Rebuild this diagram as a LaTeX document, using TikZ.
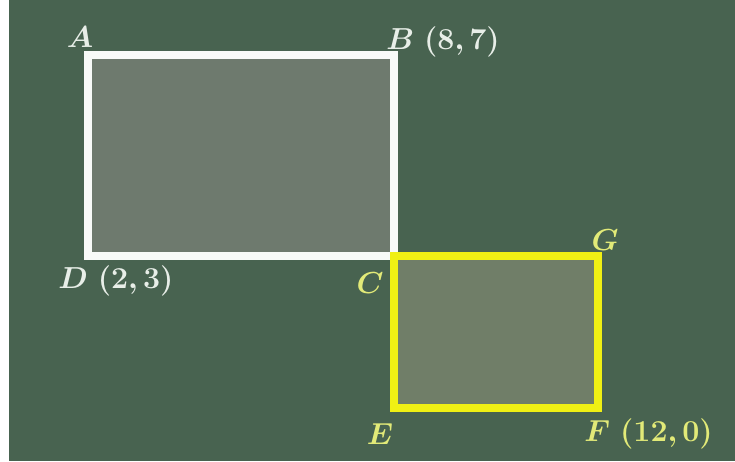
\documentclass[tikz,border=0pt]{standalone}
\usepackage{bm}
\usetikzlibrary{positioning}
\definecolor{boardgreen}{RGB}{72,99,80}
\definecolor{boxgray}{RGB}{110,122,110}
\definecolor{boxgreen}{RGB}{112,126,104}
\definecolor{chalkwhite}{RGB}{248,250,248}
\definecolor{chalkyellow}{RGB}{240,240,20}
\definecolor{lblwhite}{RGB}{232,238,232}
\definecolor{lblyellow}{RGB}{226,234,120}

\begin{document}
\begin{tikzpicture}[x=0.02cm,y=-0.02cm,
    wbox/.style={draw=chalkwhite,fill=boxgray,line width=4pt,line join=miter},
    ybox/.style={draw=chalkyellow,fill=boxgreen,line width=4pt,line join=miter},
    wlbl/.style={font=\fontsize{19}{22}\selectfont,text=lblwhite,inner sep=0pt},
    ylbl/.style={font=\fontsize{19}{22}\selectfont,text=lblyellow,inner sep=0pt}
  ]
    % board
    \fill[white] (0,0) rectangle (735,461);
    \fill[boardgreen] (9,0) rectangle (735,461);
    \useasboundingbox (0,0) rectangle (735,461);

    % corners
    \coordinate (A) at (88,55);
    \coordinate (B) at (394,55);
    \coordinate (C) at (394,256);
    \coordinate (D) at (88,256);
    \coordinate (G) at (598,256);
    \coordinate (F) at (598,408);
    \coordinate (E) at (394,408);

    \draw[wbox] (A) -- (B) -- (C) -- (D) -- cycle;
    \draw[ybox] (C) -- (G) -- (F) -- (E) -- cycle;

    % labels
    \node[wlbl] (lA) at (80,37) {$\bm{A}$};
    \node[wlbl,anchor=west] (lB) at (386,42) {$\bm{B\ (8,7)}$};
    \node[wlbl,anchor=west] (lD) at (58,281) {$\bm{D\ (2,3)}$};
    \node[ylbl] (lC) at (370,283) {$\bm{C}$};
    \node[ylbl] (lG) at (605,240) {$\bm{G}$};
    \node[ylbl] (lE) at (380,434) {$\bm{E}$};
    \node[ylbl,anchor=west] (lF) at (584,434) {$\bm{F\ (12,0)}$};
\end{tikzpicture}
\end{document}
